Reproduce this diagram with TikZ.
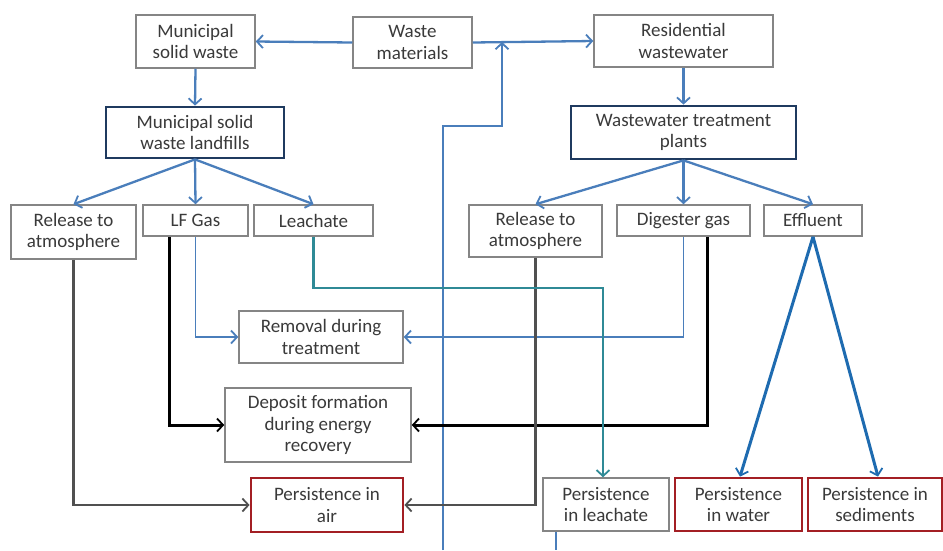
\documentclass[tikz,border=0pt]{standalone}
\usepackage{fontspec}
\setmainfont{Carlito}
\usetikzlibrary{arrows.meta}
\definecolor{txt}{HTML}{3A3A3A}
\definecolor{boxgray}{HTML}{858585}
\definecolor{navy}{HTML}{1F3A5F}
\definecolor{darkred}{HTML}{A31F24}
\definecolor{flowblue}{HTML}{4A7EBB}
\definecolor{effblue}{HTML}{1E6BB0}
\definecolor{teal}{HTML}{2F8A96}
\definecolor{linegray}{HTML}{505050}
\tikzset{
  box/.style={draw=boxgray, line width=1.5pt, fill=white, text=txt, align=center,
    inner sep=0pt, font=\fontsize{19}{21.5}\selectfont},
  keybox/.style={box, draw=navy, line width=2.8pt},
  sinkbox/.style={box, draw=darkred, line width=2.8pt},
  tip/.style={-{Straight Barb[length=6pt,width=13pt,line width=1.8pt]}},
  blueflow/.style={tip, draw=flowblue, line width=2.3pt},
  thinflow/.style={tip, draw=flowblue, line width=1.7pt},
  blackflow/.style={tip, draw=black, line width=3pt},
  grayflow/.style={tip, draw=linegray, line width=2.6pt},
  tealflow/.style={tip, draw=teal, line width=2.6pt},
  effflow/.style={tip, draw=effblue, line width=3pt},
}
\begin{document}
\begin{tikzpicture}[x=1pt, y=-1pt]
\useasboundingbox (0,0) rectangle (943,550);

% source nodes
\node[box, minimum width=119pt, minimum height=53pt] (msw) at (195.5,41.5) {Municipal\\solid waste};
\node[box, minimum width=119pt, minimum height=51pt] (waste) at (412.5,42.5) {Waste\\materials};
\node[box, minimum width=179pt, minimum height=52pt] (resid) at (683.5,41) {Residential\\wastewater};

% treatment facilities
\node[keybox, minimum width=178pt, minimum height=51pt] (mswl) at (195,132.5) {Municipal solid\\waste landfills};
\node[keybox, minimum width=225pt, minimum height=53pt] (wtp) at (683.5,132.5) {Wastewater treatment\\plants};

% pathways
\node[box, minimum width=125pt, minimum height=54pt] (relL) at (73.5,232) {Release to\\atmosphere};
\node[box, minimum width=105pt, minimum height=31pt] (lfgas) at (195.5,220.5) {LF Gas};
\node[box, minimum width=119pt, minimum height=31pt] (leach) at (313.5,220.5) {Leachate};
\node[box, minimum width=133pt, minimum height=52pt] (relR) at (535.5,231) {Release to\\atmosphere};
\node[box, minimum width=133pt, minimum height=31pt] (dig) at (683.5,220.5) {Digester gas};
\node[box, minimum width=98pt, minimum height=31pt] (effl) at (813,220.5) {Effluent};

% intermediate fates
\node[box, minimum width=164pt, minimum height=52pt] (removal) at (321,337) {Removal during\\treatment};
\node[box, minimum width=186pt, minimum height=74pt] (deposit) at (318,425) {Deposit formation\\during energy\\recovery};

% final sinks
\node[sinkbox, minimum width=152pt, minimum height=54pt] (pair) at (327,505) {Persistence in\\air};
\node[box, minimum width=126pt, minimum height=53pt] (pleach) at (606,504.5) {Persistence\\in leachate};
\node[sinkbox, minimum width=127pt, minimum height=53pt] (pwater) at (738.5,504.5) {Persistence\\in water};
\node[sinkbox, minimum width=134pt, minimum height=53pt] (psed) at (875,504.5) {Persistence in\\sediments};

% free line ends at the lower edge
\coordinate (loopfoot) at (443,550);
\coordinate (loopjoin) at (502,42);
\coordinate (leachfoot) at (556,550);

% waste materials split
\draw[blueflow] (waste.west) -- (msw.east);
\draw[blueflow] (waste.east) -- (resid.west);
\draw[blueflow] (loopfoot) |- (loopjoin |- 0,126) -- (loopjoin);
\draw[draw=flowblue, line width=2pt] (pleach.south -| leachfoot) -- (leachfoot);

% into facilities
\draw[blueflow] (msw.south) -- (mswl.north);
\draw[blueflow] (resid.south) -- (wtp.north);

% landfill branches
\draw[blueflow] (mswl.south) -- (relL.north);
\draw[blueflow] (mswl.south) -- (lfgas.north);
\draw[blueflow] (mswl.south) -- (leach.north);

% treatment plant branches
\draw[blueflow] (wtp.south) -- (relR.north);
\draw[blueflow] (wtp.south) -- (dig.north);
\draw[blueflow] (wtp.south) -- (effl.north);

% removal during treatment
\draw[thinflow] (lfgas.south) |- (removal.west);
\draw[thinflow] (dig.south) |- (removal.east);

% energy recovery
\draw[blackflow] ([xshift=-26.5pt]lfgas.south) |- (deposit.west);
\draw[blackflow] ([xshift=23.5pt]dig.south) |- (deposit.east);

% releases to air
\draw[grayflow] (relL.south) |- (pair.west);
\draw[grayflow] (relR.south) |- (pair.east);

% leachate
\draw[tealflow] (leach.south) |- (603,288) -- (pleach.north -| 603,0);

% effluent
\draw[effflow] (effl.south) -- (pwater.north -| 740,0);
\draw[effflow] (effl.south) -- (psed.north -| 878,0);
\end{tikzpicture}
\end{document}
